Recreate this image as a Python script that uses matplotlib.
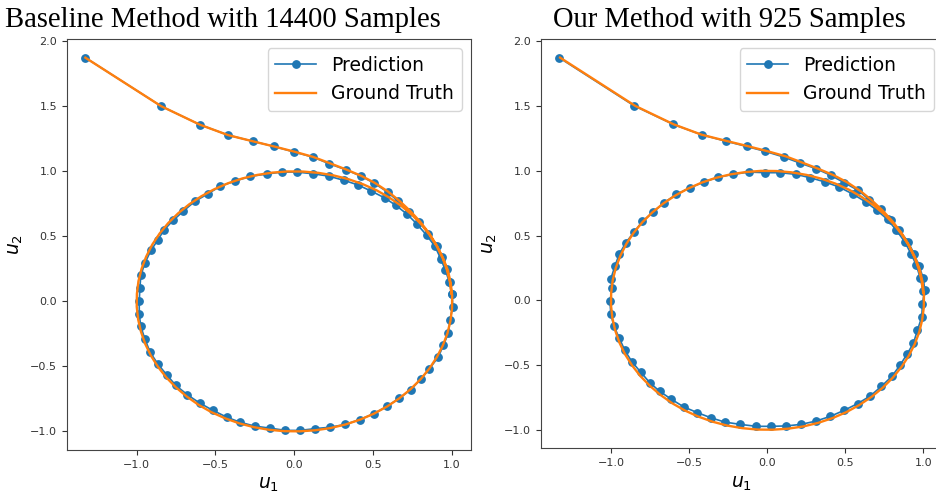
import numpy as np
import matplotlib.pyplot as plt

# ground truth trajectory (same for both panels)
gt_u1 = [-1.325, -0.844, -0.597, -0.418, -0.259, -0.127, 0.002, 0.120, 0.225, 0.330, 0.426, 0.512, 0.596, 0.667,
         0.736, 0.800, 0.857, 0.906, 0.945, 0.976, 0.994, 1.003, 1.002, 0.992, 0.973, 0.944, 0.906, 0.859, 0.803,
         0.739, 0.668, 0.590, 0.507, 0.419, 0.327, 0.231, 0.134, 0.036, -0.062, -0.160, -0.256, -0.350, -0.440,
         -0.526, -0.607, -0.682, -0.750, -0.811, -0.864, -0.909, -0.945, -0.972, -0.990, -0.999, -0.998, -0.988,
         -0.968, -0.939, -0.901, -0.854, -0.799, -0.736, -0.666, -0.589, -0.507, -0.420, -0.329, -0.235, -0.138,
         -0.040, 0.058, 0.155, 0.252, 0.346, 0.436, 0.523, 0.604, 0.679, 0.748, 0.810, 0.862, 0.907, 0.943, 0.970,
         0.989, 0.998]
gt_u2 = [1.875, 1.502, 1.359, 1.279, 1.231, 1.192, 1.152, 1.112, 1.064, 1.015, 0.966, 0.912, 0.845, 0.775,
         0.697, 0.613, 0.524, 0.428, 0.334, 0.239, 0.140, 0.043, -0.055, -0.150, -0.245, -0.338, -0.428, -0.515,
         -0.598, -0.675, -0.745, -0.808, -0.863, -0.909, -0.946, -0.974, -0.991, -0.999, -0.998, -0.987, -0.967,
         -0.937, -0.898, -0.851, -0.795, -0.731, -0.661, -0.585, -0.503, -0.417, -0.327, -0.233, -0.138, -0.040,
         0.058, 0.156, 0.252, 0.345, 0.436, 0.522, 0.603, 0.678, 0.747, 0.809, 0.863, 0.909, 0.946, 0.973, 0.991,
         1.000, 0.999, 0.989, 0.969, 0.940, 0.902, 0.855, 0.799, 0.736, 0.666, 0.589, 0.508, 0.422, 0.333, 0.241,
         0.147, 0.060]

# baseline prediction (14400 samples)
base_u1 = [-1.325, -0.844, -0.597, -0.418, -0.259, -0.127, 0.002, 0.120, 0.223, 0.329, 0.424, 0.508, 0.593, 0.662,
           0.730, 0.795, 0.852, 0.905, 0.937, 0.972, 0.989, 1.004, 1.006, 0.989, 0.979, 0.947, 0.915, 0.858, 0.806,
           0.740, 0.668, 0.588, 0.504, 0.415, 0.325, 0.230, 0.130, 0.036, -0.055, -0.150, -0.251, -0.346, -0.428,
           -0.515, -0.599, -0.677, -0.751, -0.810, -0.863, -0.914, -0.947, -0.973, -0.983, -0.983, -0.979, -0.973,
           -0.947, -0.909, -0.867, -0.825, -0.768, -0.703, -0.631, -0.547, -0.471, -0.378, -0.277, -0.174, -0.080,
           0.019, 0.120, 0.219, 0.318, 0.403, 0.489, 0.574, 0.647, 0.719, 0.778, 0.842, 0.894, 0.930, 0.960, 0.985,
           1.000]
base_u2 = [1.875, 1.502, 1.359, 1.279, 1.231, 1.192, 1.149, 1.110, 1.059, 1.013, 0.964, 0.910, 0.841, 0.769,
           0.690, 0.610, 0.521, 0.423, 0.341, 0.251, 0.148, 0.054, -0.044, -0.146, -0.244, -0.338, -0.428, -0.518,
           -0.595, -0.679, -0.744, -0.808, -0.864, -0.910, -0.946, -0.967, -0.979, -0.992, -0.992, -0.975, -0.959,
           -0.928, -0.890, -0.838, -0.782, -0.718, -0.646, -0.562, -0.485, -0.390, -0.290, -0.192, -0.100, 0.000,
           0.103, 0.200, 0.295, 0.392, 0.469, 0.551, 0.623, 0.695, 0.769, 0.828, 0.885, 0.925, 0.962, 0.980, 0.995,
           0.995, 0.982, 0.964, 0.931, 0.897, 0.849, 0.797, 0.738, 0.669, 0.597, 0.508, 0.423, 0.330, 0.240, 0.150,
           0.060]

# our prediction (925 samples)
ours_u1 = [-1.330, -0.851, -0.600, -0.419, -0.266, -0.132, -0.013, 0.106, 0.211, 0.313, 0.408, 0.493, 0.583, 0.653,
           0.727, 0.791, 0.844, 0.902, 0.940, 0.972, 0.999, 1.008, 0.993, 0.989, 0.961, 0.936, 0.897, 0.849, 0.798,
           0.731, 0.659, 0.578, 0.493, 0.404, 0.313, 0.217, 0.121, 0.026, -0.070, -0.172, -0.272, -0.362, -0.447,
           -0.532, -0.613, -0.687, -0.751, -0.810, -0.864, -0.911, -0.947, -0.981, -1.000, -1.006, -0.992, -1.000,
           -0.974, -0.947, -0.904, -0.851, -0.798, -0.730, -0.660, -0.581, -0.496, -0.405, -0.313, -0.217, -0.117,
           -0.013, 0.085, 0.185, 0.276, 0.372, 0.461, 0.551, 0.632, 0.702, 0.770, 0.827, 0.881, 0.920, 0.955, 0.980,
           0.998]
ours_u2 = [1.874, 1.503, 1.359, 1.279, 1.230, 1.189, 1.151, 1.107, 1.060, 1.017, 0.965, 0.909, 0.849, 0.777,
           0.708, 0.618, 0.546, 0.450, 0.360, 0.263, 0.172, 0.077, -0.026, -0.129, -0.232, -0.329, -0.412, -0.502,
           -0.587, -0.664, -0.739, -0.798, -0.849, -0.896, -0.932, -0.958, -0.970, -0.973, -0.973, -0.958, -0.940,
           -0.906, -0.867, -0.824, -0.764, -0.703, -0.636, -0.553, -0.476, -0.386, -0.288, -0.198, -0.103, -0.008,
           0.095, 0.167, 0.265, 0.355, 0.446, 0.528, 0.610, 0.682, 0.754, 0.819, 0.868, 0.914, 0.952, 0.973, 0.991,
           0.986, 0.986, 0.973, 0.947, 0.914, 0.875, 0.819, 0.759, 0.695, 0.625, 0.541, 0.450, 0.360, 0.270, 0.170,
           0.070]

titles = ['Baseline Method with 14400 Samples', 'Our Method with 925 Samples']
title_x = [223, 729]

fig = plt.figure(figsize=(9.36, 4.93), dpi=100)
ax1 = fig.add_axes([67 / 936, 43 / 493, 404 / 936, 411 / 493])
ax2 = fig.add_axes([541 / 936, 44.7 / 493, 402 / 936, 409.3 / 493])

for ax, pu1, pu2 in [(ax1, base_u1, base_u2), (ax2, ours_u1, ours_u2)]:
    ax.plot(pu1, pu2, color='tab:blue', marker='o', markersize=5.3, linewidth=1.2, label='Prediction')
    ax.plot(gt_u1, gt_u2, color='tab:orange', linewidth=1.7, label='Ground Truth')
    ax.set_xticks([-1.0, -0.5, 0.0, 0.5, 1.0])
    ax.set_yticks([-1.0, -0.5, 0.0, 0.5, 1.0, 1.5, 2.0])
    ax.tick_params(labelsize=8, colors='#333333')
    ax.set_xlabel('$u_1$', fontsize=13.5)
    ax.set_ylabel('$u_2$', fontsize=13.5)
    ax.legend(loc='upper right', fontsize=13.5, handlelength=2.2)
    for s in ax.spines.values():
        s.set_color('#444444')

for t, x in zip(titles, title_x):
    fig.text(x / 936, 466 / 493, t, ha='center', va='baseline', fontsize=20.6, family='Liberation Serif')

fig.savefig('out.png', dpi=100)
